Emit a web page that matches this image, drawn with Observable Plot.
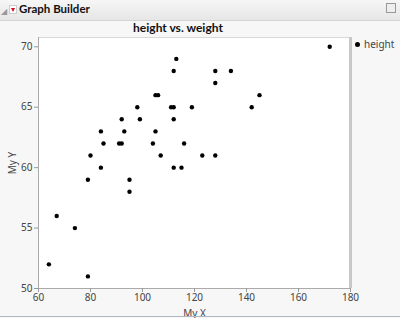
<!DOCTYPE html>
<html><head><meta charset="utf-8">
<script src="https://cdn.jsdelivr.net/npm/d3@7"></script>
<script src="https://cdn.jsdelivr.net/npm/@observablehq/plot@0.6"></script>
<style>
body{margin:0;background:#f7f7f7;font-family:"Noto Sans",sans-serif;}
#wrap{position:relative;width:400px;height:318px;overflow:hidden;background:#f7f7f7;}
#hdr{position:absolute;left:0;top:0;width:400px;height:21px;background:linear-gradient(#f6f6f6,#e6e6e6);border-bottom:1px solid #d4d4d4;box-sizing:border-box;}
#hdr .t{position:absolute;left:19px;top:2px;font-family:Lato,sans-serif;font-size:11.5px;font-weight:bold;color:#111;}
#hdr .tri{position:absolute;left:1px;top:5px;font-size:8px;color:#999;}
#hdr .red{position:absolute;left:9px;top:5px;width:8px;height:9px;border:1px solid #ccc;background:#fff;box-sizing:border-box;}
#hdr .red:after{content:"";position:absolute;left:1px;top:2px;border-left:2.5px solid transparent;border-right:2.5px solid transparent;border-top:4px solid #d01020;}
#hdr .ico{position:absolute;right:4px;top:3px;width:10px;height:10px;border:1px solid #999;background:#eee;box-sizing:border-box;}
#title{position:absolute;left:0;width:356px;top:20px;text-align:center;font-family:Lato,sans-serif;font-size:12px;font-weight:bold;color:#111;}
#chart{position:absolute;left:0;top:30px;}
#legend{position:absolute;left:355px;top:37px;font-size:10px;color:#444;}
#legend .d{display:inline-block;width:5px;height:5px;border-radius:50%;background:#000;margin-right:4px;vertical-align:1px;}
#bline{position:absolute;left:0;top:316px;width:400px;height:1px;background:#b0b8c4;}
</style></head>
<body><div id="wrap">
<div id="hdr"><span class="tri">&#9698;</span><span class="red"></span><span class="t">Graph Builder</span><span class="ico"></span></div>
<div id="title">height vs. weight</div>
<div id="chart"></div>
<div id="legend"><span class="d"></span>height</div>
<div id="bline"></div>
</div>
<script>
const weight = [113,112,105,106,98,111,112,119,92,99,112,84,93,105,85,91,92,104,116,80,107,84,112,115,79,95,172,128,134,128,145,142,123,128,95,67,74,64,79];
const height = [69,68,66,66,65,65,65,65,64,64,64,63,63,63,62,62,62,62,62,61,61,60,60,60,59,59,70,68,68,67,66,65,61,61,58,56,55,52,51];
const xTicks = [60,80,100,120,140,160,180];
const yTicks = [50,55,60,65,70];
const seriesName = "height";

const data = weight.map((w,i)=>({weight:w,height:height[i]}));
const plot = Plot.plot({
  width: 360, height: 288,
  marginLeft: 38, marginRight: 10, marginTop: 7, marginBottom: 30,
  style: {background: "transparent", fontFamily: "Noto Sans, sans-serif", fontSize: "10px", color: "#444"},
  x: {domain: [60,180], ticks: xTicks, label: null},
  y: {domain: [50,70.77], ticks: yTicks, label: null},
  marks: [
    Plot.frame({fill: "white", stroke: "#d8d8d8"}),
    Plot.ruleX([180], {stroke: "#c8c8c8", strokeWidth: 3}),
    Plot.ruleX([60], {stroke: "#aaa"}),
    Plot.ruleY([50], {stroke: "#aaa"}),
    Plot.axisX({ticks: xTicks, tickSize: 4, tickPadding: 1, stroke: "#999", fill: "#444", label: "My X", labelAnchor: "center", labelArrow: "none", labelOffset: 28}),
    Plot.axisY({ticks: yTicks, tickSize: 4, tickPadding: 2, stroke: "#999", fill: "#444", label: "My Y", labelAnchor: "center", labelArrow: "none", labelOffset: 30}),
    Plot.dot(data, {x: "weight", y: "height", r: 2.2, fill: "black", stroke: "none"})
  ]
});
document.getElementById("chart").appendChild(plot);
</script>
</body></html>
